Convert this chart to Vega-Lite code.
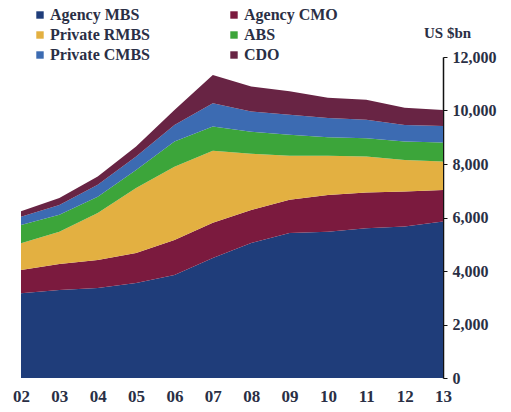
{
  "$schema": "https://vega.github.io/schema/vega-lite/v6.json",
  "width": 422,
  "height": 321,
  "autosize": "none",
  "padding": {"left": 21, "top": 57, "right": 68, "bottom": 34},
  "background": "white",
  "config": {
    "view": {"stroke": null},
    "font": "Liberation Serif"
  },
  "data": {
    "values": [
      {"year": "02", "series": "Agency MBS", "value": 3170},
      {"year": "03", "series": "Agency MBS", "value": 3290},
      {"year": "04", "series": "Agency MBS", "value": 3360},
      {"year": "05", "series": "Agency MBS", "value": 3550},
      {"year": "06", "series": "Agency MBS", "value": 3850},
      {"year": "07", "series": "Agency MBS", "value": 4490},
      {"year": "08", "series": "Agency MBS", "value": 5050},
      {"year": "09", "series": "Agency MBS", "value": 5420},
      {"year": "10", "series": "Agency MBS", "value": 5470},
      {"year": "11", "series": "Agency MBS", "value": 5600},
      {"year": "12", "series": "Agency MBS", "value": 5660},
      {"year": "13", "series": "Agency MBS", "value": 5850},
      {"year": "02", "series": "Agency CMO", "value": 870},
      {"year": "03", "series": "Agency CMO", "value": 970},
      {"year": "04", "series": "Agency CMO", "value": 1050},
      {"year": "05", "series": "Agency CMO", "value": 1120},
      {"year": "06", "series": "Agency CMO", "value": 1310},
      {"year": "07", "series": "Agency CMO", "value": 1310},
      {"year": "08", "series": "Agency CMO", "value": 1230},
      {"year": "09", "series": "Agency CMO", "value": 1240},
      {"year": "10", "series": "Agency CMO", "value": 1370},
      {"year": "11", "series": "Agency CMO", "value": 1330},
      {"year": "12", "series": "Agency CMO", "value": 1310},
      {"year": "13", "series": "Agency CMO", "value": 1180},
      {"year": "02", "series": "Private RMBS", "value": 1000},
      {"year": "03", "series": "Private RMBS", "value": 1210},
      {"year": "04", "series": "Private RMBS", "value": 1760},
      {"year": "05", "series": "Private RMBS", "value": 2430},
      {"year": "06", "series": "Private RMBS", "value": 2740},
      {"year": "07", "series": "Private RMBS", "value": 2700},
      {"year": "08", "series": "Private RMBS", "value": 2100},
      {"year": "09", "series": "Private RMBS", "value": 1650},
      {"year": "10", "series": "Private RMBS", "value": 1470},
      {"year": "11", "series": "Private RMBS", "value": 1350},
      {"year": "12", "series": "Private RMBS", "value": 1180},
      {"year": "13", "series": "Private RMBS", "value": 1060},
      {"year": "02", "series": "ABS", "value": 680},
      {"year": "03", "series": "ABS", "value": 630},
      {"year": "04", "series": "ABS", "value": 610},
      {"year": "05", "series": "ABS", "value": 680},
      {"year": "06", "series": "ABS", "value": 940},
      {"year": "07", "series": "ABS", "value": 900},
      {"year": "08", "series": "ABS", "value": 830},
      {"year": "09", "series": "ABS", "value": 780},
      {"year": "10", "series": "ABS", "value": 690},
      {"year": "11", "series": "ABS", "value": 680},
      {"year": "12", "series": "ABS", "value": 690},
      {"year": "13", "series": "ABS", "value": 710},
      {"year": "02", "series": "Private CMBS", "value": 310},
      {"year": "03", "series": "Private CMBS", "value": 370},
      {"year": "04", "series": "Private CMBS", "value": 440},
      {"year": "05", "series": "Private CMBS", "value": 500},
      {"year": "06", "series": "Private CMBS", "value": 620},
      {"year": "07", "series": "Private CMBS", "value": 870},
      {"year": "08", "series": "Private CMBS", "value": 750},
      {"year": "09", "series": "Private CMBS", "value": 750},
      {"year": "10", "series": "Private CMBS", "value": 720},
      {"year": "11", "series": "Private CMBS", "value": 690},
      {"year": "12", "series": "Private CMBS", "value": 620},
      {"year": "13", "series": "Private CMBS", "value": 620},
      {"year": "02", "series": "CDO", "value": 200},
      {"year": "03", "series": "CDO", "value": 260},
      {"year": "04", "series": "CDO", "value": 310},
      {"year": "05", "series": "CDO", "value": 370},
      {"year": "06", "series": "CDO", "value": 560},
      {"year": "07", "series": "CDO", "value": 1060},
      {"year": "08", "series": "CDO", "value": 940},
      {"year": "09", "series": "CDO", "value": 880},
      {"year": "10", "series": "CDO", "value": 760},
      {"year": "11", "series": "CDO", "value": 750},
      {"year": "12", "series": "CDO", "value": 640},
      {"year": "13", "series": "CDO", "value": 600}
    ]
  },
  "transform": [
    {"calculate": "indexof(['Agency MBS','Agency CMO','Private RMBS','ABS','Private CMBS','CDO'], datum.series)", "as": "ord"}
  ],
  "mark": {"type": "area", "opacity": 1},
  "encoding": {
    "x": {
      "field": "year",
      "type": "ordinal",
      "scale": {"type": "point", "padding": 0},
      "axis": {
        "title": null,
        "domain": false,
        "ticks": false,
        "labelAngle": 0,
        "labelPadding": 10,
        "labelFontSize": 17,
        "labelFontWeight": "bold",
        "labelColor": "#2a2f45"
      }
    },
    "y": {
      "field": "value",
      "type": "quantitative",
      "stack": "zero",
      "scale": {"domain": [0, 12000], "nice": false},
      "axis": {
        "orient": "right",
        "values": [0, 2000, 4000, 6000, 8000, 10000, 12000],
        "format": ",d",
        "grid": false,
        "domainColor": "#111111",
        "domainWidth": 1.5,
        "tickColor": "#111111",
        "tickSize": 4,
        "labelPadding": 5,
        "labelFontSize": 16,
        "labelFontWeight": "bold",
        "labelColor": "#2a2f45",
        "title": "US $bn",
        "titleAngle": 0,
        "titleAlign": "center",
        "titleBaseline": "middle",
        "titleX": 4,
        "titleY": -25,
        "titleFontSize": 15,
        "titleFontWeight": "bold",
        "titleColor": "#2a2f45"
      }
    },
    "color": {
      "field": "series",
      "type": "nominal",
      "scale": {
        "domain": ["Agency MBS", "Agency CMO", "Private RMBS", "ABS", "Private CMBS", "CDO"],
        "range": ["#1f3d7a", "#7b1a3e", "#e3b041", "#3ca53a", "#3c6bb2", "#682444"]
      },
      "legend": {
        "title": null,
        "values": ["Agency MBS", "Private RMBS", "Private CMBS", "Agency CMO", "ABS", "CDO"],
        "orient": "none",
        "legendX": 11,
        "legendY": -50,
        "columns": 2,
        "columnPadding": 76,
        "rowPadding": 4,
        "symbolType": "square",
        "symbolSize": 55,
        "symbolStrokeWidth": 0,
        "labelOffset": 2,
        "labelFontSize": 16,
        "labelFontWeight": "bold",
        "labelColor": "#2a2f45"
      }
    },
    "order": {"field": "ord", "type": "quantitative", "sort": "ascending"}
  }
}
